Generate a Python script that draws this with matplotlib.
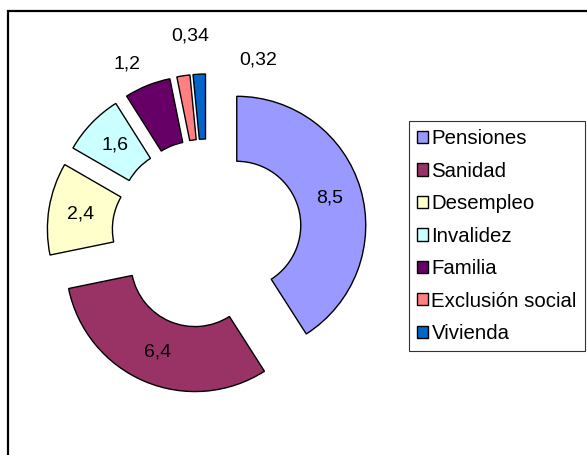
import numpy as np
import matplotlib
matplotlib.use("Agg")
import matplotlib.pyplot as plt
from matplotlib.patches import Rectangle

# Data
categorias = ["Pensiones", "Sanidad", "Desempleo", "Invalidez", "Familia", "Exclusión social", "Vivienda"]
valores = [8.5, 6.4, 2.4, 1.6, 1.2, 0.34, 0.32]
etiquetas = ["8,5", "6,4", "2,4", "1,6", "1,2", "0,34", "0,32"]
colores = ["#9999FF", "#993366", "#FFFFCC", "#CCFFFF", "#660066", "#FF8080", "#0066CC"]

# label placement: distance (fraction of radius) and angle tweak (deg) per slice
lab_dist = [0.75, 0.75, 0.75, 0.75, 1.22, 1.30, 1.18]
lab_rot = [0, 0, 0, 0, 4, -4.5, -23]

plt.rcParams['font.family'] = ['Liberation Sans', 'DejaVu Sans']

W, H = 587, 455
fig = plt.figure(figsize=(W / 100, H / 100), dpi=100)
ax = fig.add_axes([0, 0, 1, 1])

R = 129        # outer radius in pixels
ring = 65      # ring width
explode = 31   # pixel offset of each slice
centro = (207, H - 234)

wedges, _ = ax.pie(valores, colors=colores, radius=R, center=centro,
                   startangle=90, counterclock=False,
                   explode=[explode] * len(valores),
                   wedgeprops=dict(width=ring, edgecolor="black", linewidth=1.0))

# labels from wedge geometry
for w, lab, d, rot in zip(wedges, etiquetas, lab_dist, lab_rot):
    ang = np.deg2rad((w.theta1 + w.theta2) / 2 + rot)
    cx, cy = w.center
    ax.text(cx + d * R * np.cos(ang), cy + d * R * np.sin(ang), lab,
            ha="center", va="center", fontsize=14, color="black")

ax.set_xlim(0, W)
ax.set_ylim(0, H)
ax.set_aspect("equal")
ax.axis("off")

# chart frame (only top and left visible)
ax.add_patch(Rectangle((8, -20), W + 20, H - 11 + 20, fill=False,
                       edgecolor="black", linewidth=1.6, zorder=0))

leg = ax.legend(wedges, categorias, loc="upper left",
                bbox_to_anchor=(409 / W, 1 - 121 / H), bbox_transform=fig.transFigure,
                fontsize=14.7, frameon=True, fancybox=False, shadow=False,
                handlelength=0.55, handleheight=0.55, handletextpad=0.15,
                labelspacing=0.66, borderpad=0.4, borderaxespad=0)
leg.get_frame().set_edgecolor("black")
leg.get_frame().set_linewidth(0.8)

fig.savefig("out.png", dpi=100)
